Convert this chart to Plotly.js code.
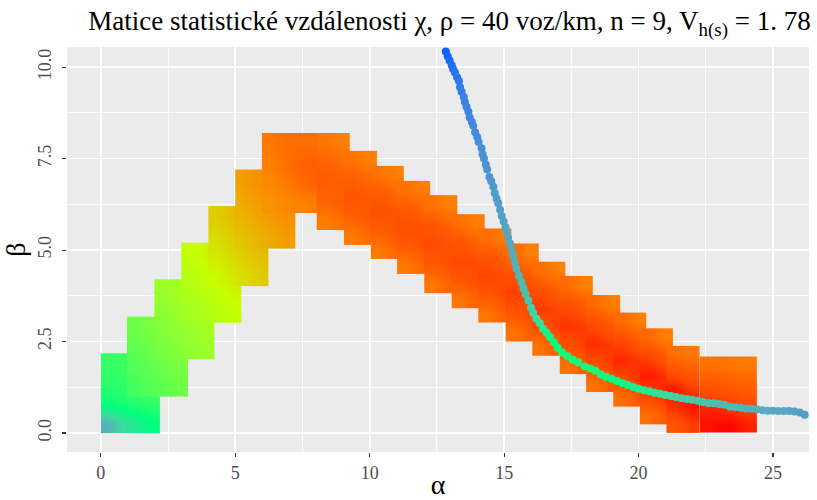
<!DOCTYPE html>
<html><head><meta charset="utf-8">
<script src="https://cdn.plot.ly/plotly-3.0.1.min.js"></script>
<style>html,body{margin:0;padding:0;background:#fff}#chart{width:817px;height:500px}</style>
</head><body><div id="chart"></div>
<script>
// ---- staircase tiles of the distance matrix (alpha / beta extents) ----
const tileX0 = [0, 0.97, 1.99, 2.99, 4.0, 5.0, 5.99, 8.03, 9.04, 10.04, 11.02, 12.03, 13.05, 14.04, 15.06, 16.05, 17.07, 18.05, 19.06, 20.05, 21.04, 22.28];
const tileX1 = [2.21, 3.23, 4.22, 5.24, 6.23, 7.23, 8.21, 9.25, 10.25, 11.27, 12.26, 13.27, 14.27, 15.28, 16.27, 17.27, 18.28, 19.3, 20.3, 21.29, 22.28, 24.41];
const tileY0 = [0, 1.0, 2.0, 3.0, 4.02, 5.03, 6.02, 5.55, 5.14, 4.75, 4.35, 3.82, 3.41, 3.02, 2.5, 2.11, 1.61, 1.11, 0.71, 0.23, 0, 0];
const tileY1 = [2.18, 3.18, 4.2, 5.2, 6.2, 7.2, 8.2, 8.2, 7.71, 7.3, 6.89, 6.5, 5.98, 5.59, 5.18, 4.68, 4.29, 3.77, 3.29, 2.86, 2.38, 2.09];
// distance values read inside each tile (rows: bottom -> top, columns: left -> right)
const tileZ = [
  [[0.885,0.845,0.82,0.80],[0.79,0.78,0.77,0.765],[0.77,0.765,0.76,0.752],[0.76,0.755,0.75,0.74]],
  [[0.752,0.738,0.721,0.705],[0.738,0.721,0.705,0.692],[0.722,0.705,0.692,0.677],[0.705,0.692,0.677,0.66]],
  [[0.696,0.682,0.665,0.648],[0.682,0.665,0.649,0.632],[0.666,0.649,0.632,0.615],[0.649,0.632,0.616,0.599]],
  [[0.639,0.622,0.605,0.587],[0.622,0.605,0.587,0.567],[0.606,0.588,0.568,0.545],[0.588,0.568,0.545,0.52]],
  [[0.575,0.554,0.53,0.503],[0.554,0.53,0.503,0.474],[0.531,0.504,0.475,0.44],[0.504,0.475,0.44,0.407]],
  [[0.485,0.452,0.419,0.384],[0.453,0.419,0.385,0.349],[0.42,0.385,0.35,0.313],[0.386,0.35,0.314,0.278]],
  [[0.364,0.33,0.31,0.29],[0.33,0.285,0.245,0.21],[0.30,0.255,0.22,0.20],[0.275,0.255,0.245,0.245]],
  [[0.289,0.25],[0.221,0.197],[0.185,0.197],[0.214,0.240],[0.268,0.30]],
  [[0.284,0.239],[0.206,0.178],[0.165,0.179],[0.199,0.23],[0.262,0.30]],
  [[0.280,0.232],[0.197,0.166],[0.152,0.167],[0.189,0.223],[0.259,0.30]],
  [[0.277,0.227],[0.189,0.157],[0.142,0.158],[0.182,0.218],[0.256,0.30]],
  [[0.275,0.221],[0.182,0.148],[0.132,0.149],[0.174,0.213],[0.253,0.30]],
  [[0.272,0.216],[0.174,0.139],[0.122,0.14],[0.167,0.207],[0.25,0.30]],
  [[0.269,0.211],[0.167,0.130],[0.113,0.132],[0.16,0.203],[0.248,0.30]],
  [[0.266,0.205],[0.16,0.121],[0.103,0.123],[0.152,0.198],[0.245,0.30]],
  [[0.264,0.20],[0.152,0.112],[0.093,0.114],[0.145,0.192],[0.242,0.30]],
  [[0.261,0.194],[0.145,0.103],[0.083,0.105],[0.137,0.187],[0.239,0.30]],
  [[0.258,0.189],[0.137,0.094],[0.073,0.096],[0.13,0.182],[0.236,0.30]],
  [[0.255,0.183],[0.13,0.084],[0.063,0.087],[0.122,0.177],[0.234,0.30]],
  [[0.251,0.174],[0.118,0.07],[0.047,0.072],[0.11,0.168],[0.229,0.30]],
  [[0.16,0.10],[0.08,0.03],[0.035,0.10],[0.15,0.19],[0.25,0.28]],
  [[0.03,0.005,0.05],[0.05,0.07,0.11],[0.12,0.14,0.17],[0.19,0.21,0.23],[0.26,0.27,0.29]]
];

// ---- curve of points ----
const curveA = [12.83,12.9,12.97,13.05,13.1,13.17,13.25,13.32,13.36,13.42,13.5,13.54,13.6,13.67,13.72,13.8,13.85,13.92,14.0,14.05,14.16,14.2,14.25,14.32,14.37,14.45,14.52,14.6,14.65,14.72,14.78,14.85,14.91,14.98,15.05,15.1,15.15,15.22,15.28,15.34,15.4,15.46,15.55,15.65,15.72,15.8,15.9,16.0,16.08,16.2,16.33,16.45,16.58,16.7,16.85,17.0,17.15,17.35,17.55,17.75,18.0,18.2,18.4,18.6,18.8,19.0,19.2,19.4,19.6,19.8,20.0,20.2,20.4,20.6,20.8,21.0,21.2,21.4,21.6,21.8,22.0,22.2,22.4,22.6,22.8,23.0,23.2,23.4,23.6,23.8,24.0,24.2,24.4,24.6,24.8,25.0,25.2,25.4,25.6,25.8,26.0,26.18];
const curveB = [10.43,10.3,10.18,10.05,9.95,9.85,9.72,9.62,9.45,9.33,9.18,9.05,8.92,8.78,8.62,8.5,8.4,8.22,8.09,7.95,7.78,7.62,7.5,7.33,7.2,7.0,6.88,6.73,6.55,6.4,6.28,6.1,5.93,5.78,5.62,5.5,5.33,5.18,5.0,4.84,4.65,4.48,4.3,4.12,3.95,3.8,3.62,3.42,3.28,3.12,3.0,2.85,2.74,2.62,2.48,2.33,2.2,2.1,2.0,1.93,1.82,1.76,1.7,1.6,1.53,1.48,1.42,1.36,1.31,1.26,1.21,1.17,1.14,1.1,1.07,1.04,1.01,0.98,0.95,0.93,0.91,0.88,0.85,0.82,0.81,0.79,0.77,0.72,0.7,0.69,0.67,0.66,0.65,0.62,0.61,0.61,0.6,0.6,0.6,0.59,0.56,0.5];
const curveZ = [0.99,0.985,0.98,0.975,0.972,0.968,0.965,0.962,0.958,0.955,0.952,0.95,0.948,0.946,0.944,0.942,0.94,0.938,0.936,0.934,0.932,0.93,0.928,0.926,0.924,0.922,0.92,0.918,0.916,0.914,0.912,0.91,0.908,0.906,0.904,0.902,0.9,0.898,0.896,0.893,0.89,0.887,0.884,0.88,0.876,0.872,0.868,0.862,0.856,0.848,0.84,0.83,0.82,0.81,0.8,0.795,0.79,0.79,0.79,0.79,0.79,0.79,0.79,0.792,0.795,0.798,0.80,0.805,0.81,0.815,0.82,0.825,0.83,0.835,0.84,0.845,0.85,0.855,0.86,0.862,0.865,0.868,0.87,0.872,0.874,0.876,0.878,0.88,0.882,0.884,0.886,0.888,0.89,0.892,0.894,0.896,0.898,0.9,0.902,0.904,0.906,0.908];

const xTicks = [0, 5, 10, 15, 20, 25];
const yTicks = [0, 2.5, 5, 7.5, 10];
const yTickText = ['0.0', '2.5', '5.0', '7.5', '10.0'];

const traces = [];
for (let i = 0; i < tileX0.length; i++) {
  const z = tileZ[i];
  const nx = z[0].length, ny = z.length;
  const xs = [], ys = [];
  for (let k = 0; k <= nx; k++) xs.push(tileX0[i] + (tileX1[i] - tileX0[i]) * k / nx);
  for (let k = 0; k <= ny; k++) ys.push(tileY0[i] + (tileY1[i] - tileY0[i]) * k / ny);
  traces.push({type: 'heatmap', x: xs, y: ys, z: z, zsmooth: 'best', coloraxis: 'coloraxis', hoverinfo: 'skip'});
}
traces.push({type: 'scatter', mode: 'markers', x: curveA, y: curveB,
  marker: {size: 8, color: curveZ, coloraxis: 'coloraxis', line: {width: 0}}, hoverinfo: 'skip'});

const serif = 'Liberation Serif';
const layout = {
  width: 817, height: 500,
  margin: {l: 67, r: 8, t: 47, b: 48},
  paper_bgcolor: '#ffffff', plot_bgcolor: '#ebebeb',
  showlegend: false,
  font: {family: serif},
  title: {text: 'Matice statistické vzdálenosti χ, ρ = 40 voz/km, n = 9, V<sub>h(s)</sub> = 1. 78',
    font: {family: serif, size: 27, color: '#000'}, xref: 'container', yref: 'container',
    x: 0.108, xanchor: 'left', y: 0.978, yanchor: 'top'},
  coloraxis: {cmin: 0, cmax: 1, showscale: false, colorscale: [
    [0.00, '#ff0000'], [0.12, '#ff4800'], [0.22, '#ff6400'], [0.30, '#ff8000'],
    [0.38, '#f59a00'], [0.46, '#e8b800'], [0.52, '#dcd400'], [0.58, '#c8ff00'],
    [0.66, '#94ff30'], [0.74, '#50ff58'], [0.80, '#00ff80'], [0.85, '#40d8a0'],
    [0.90, '#5aa5c0'], [0.95, '#3c82e6'], [1.00, '#0058ff']]},
  xaxis: {range: [-1.26, 26.34], tickvals: xTicks, ticks: 'outside', ticklen: 4, tickwidth: 1.1,
    tickcolor: '#333333', showgrid: true, gridcolor: '#ffffff', gridwidth: 1.6, zeroline: false,
    minor: {dtick: 2.5, tick0: 0, showgrid: true, gridcolor: '#ffffff', gridwidth: 0.8, ticks: ''},
    tickfont: {family: serif, size: 18, color: '#4d4d4d'}, showline: false,
    title: {text: 'α', font: {family: serif, size: 28, color: '#000'}, standoff: 6}},
  yaxis: {range: [-0.52, 10.55], tickvals: yTicks, ticktext: yTickText, tickangle: -90,
    ticks: 'outside', ticklen: 4, tickwidth: 1.1, tickcolor: '#333333', showgrid: true,
    gridcolor: '#ffffff', gridwidth: 1.6, zeroline: false, ticklabelstandoff: 4,
    minor: {dtick: 1.25, tick0: 0, showgrid: true, gridcolor: '#ffffff', gridwidth: 0.8, ticks: ''},
    tickfont: {family: serif, size: 18, color: '#4d4d4d'}, showline: false,
    title: {text: 'β', font: {family: serif, size: 28, color: '#000'}, standoff: 10}}
};
Plotly.newPlot('chart', traces, layout, {staticPlot: true, displayModeBar: false});
</script>
</body></html>
